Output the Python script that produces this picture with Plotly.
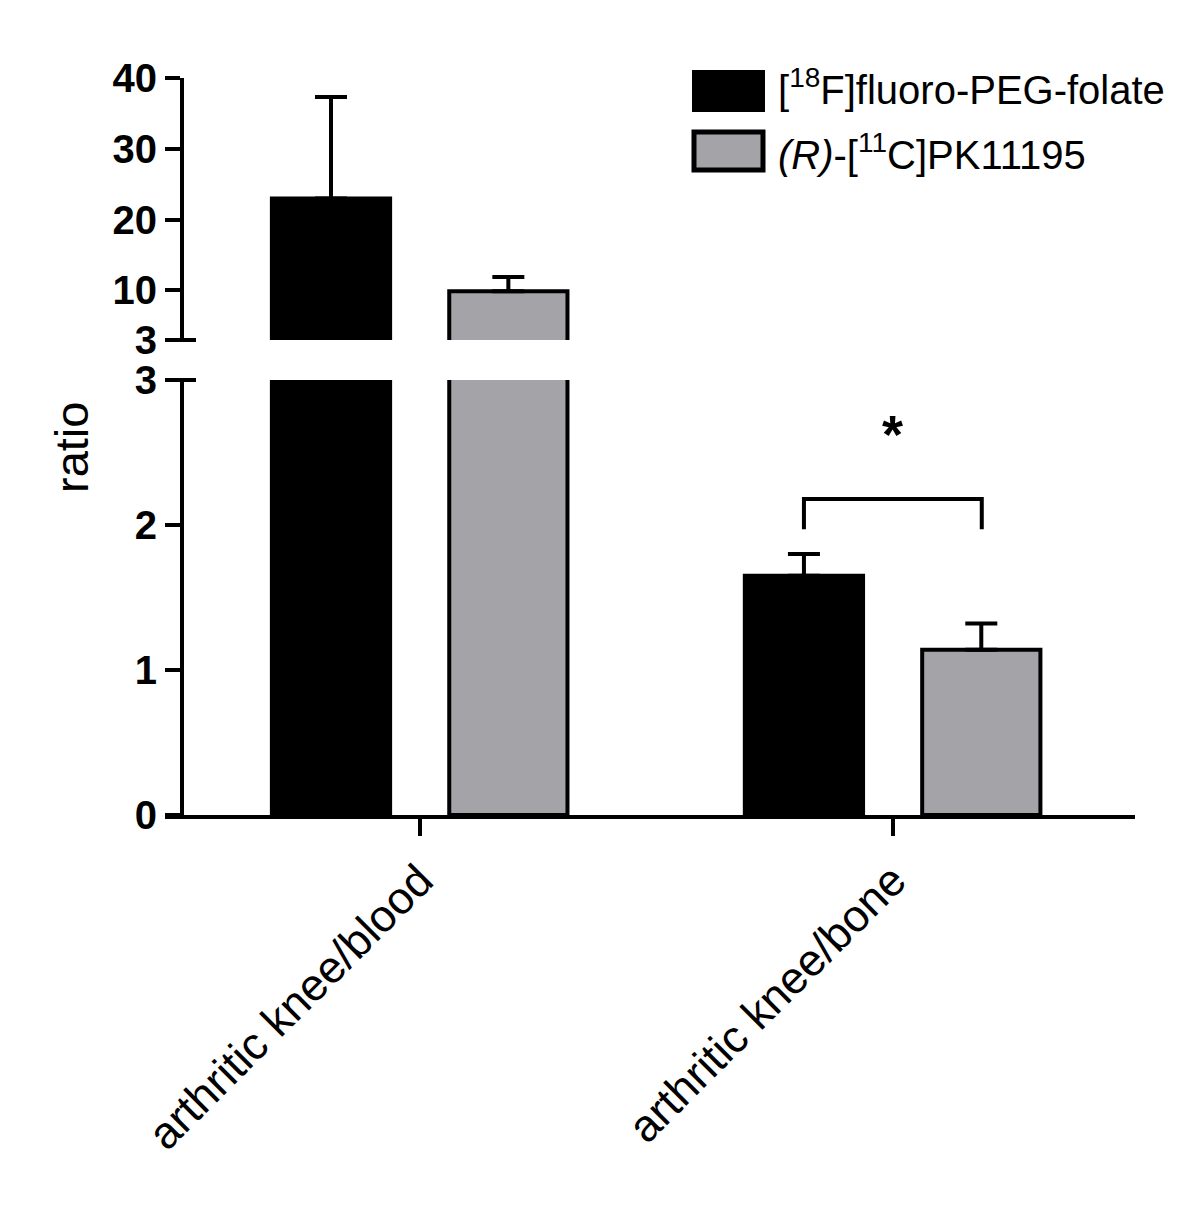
import plotly.graph_objects as go

# ---- data ----
categories = ["arthritic knee/blood", "arthritic knee/bone"]
folate_mean = [23.0, 1.65]
folate_sem = [14.3, 0.15]
pk_mean = [9.9, 1.14]
pk_sem = [2.0, 0.18]
series_names = ["[<sup>18</sup>F]fluoro-PEG-folate", "<i>(R)</i>-[<sup>11</sup>C]PK11195"]
lower_ticks = [0, 1, 2, 3]
upper_ticks = [3, 10, 20, 30, 40]
lower_range = [0, 3]
upper_range = [3, 40]

# ---- layout geometry (page pixels) ----
W, H = 1200, 1211
OFF = 8  # default page body margin
L, R, T, B = 165, 1135, 78, 815
pw, ph = R - L, B - T


def px(xp):
    return (xp - L) / pw


def py(yp):
    return (B - yp) / ph


FONT = "Liberation Sans, Arial, sans-serif"
GREY = "#a3a3a8"
LW = 4

fig = go.Figure()

for axis in ["y", "y2"]:
    for i, (vals, errs, col) in enumerate([(folate_mean, folate_sem, "black"),
                                            (pk_mean, pk_sem, GREY)]):
        fig.add_trace(go.Bar(
            x=categories, y=vals, yaxis=axis, xaxis="x",
            offset=-0.313 if i == 0 else 0.062, width=0.25,
            marker=dict(color=col, line=dict(color="black", width=LW)),
            error_y=dict(type="data", symmetric=False, array=errs,
                         arrayminus=[0] * len(errs), thickness=LW, width=16,
                         color="black"),
            showlegend=False,
        ))

ypos = px(182)
fig.update_layout(
    width=W, height=H,
    margin=dict(l=L - OFF, r=W - (R - OFF), t=T - OFF, b=H - (B - OFF)),
    plot_bgcolor="white", paper_bgcolor="white",
    showlegend=False,
    xaxis=dict(type="category", range=[-0.539, 1.512], showline=True,
               linecolor="black", linewidth=LW, ticks="outside", ticklen=17,
               tickwidth=LW, tickcolor="black", tickangle=-45,
               tickfont=dict(family=FONT, size=45, color="black"),
               showgrid=False, zeroline=False, anchor="y"),
    yaxis=dict(domain=[0, py(380)], range=lower_range, tickvals=lower_ticks,
               anchor="free", position=ypos, showline=True, linecolor="black",
               linewidth=LW, ticks="outside", ticklen=15, tickwidth=LW,
               tickcolor="black", showgrid=False, zeroline=False,
               tickfont=dict(family=FONT, size=40, color="black", weight="bold")),
    yaxis2=dict(domain=[py(340), 1], range=upper_range, tickvals=upper_ticks,
                anchor="free", position=ypos, showline=True, linecolor="black",
                linewidth=LW, ticks="outside", ticklen=15, tickwidth=LW,
                tickcolor="black", showgrid=False, zeroline=False,
                tickfont=dict(family=FONT, size=40, color="black", weight="bold")),
)

# break caps on the y axis
for yy in [340, 380]:
    fig.add_shape(type="line", xref="paper", yref="paper",
                  x0=px(180), x1=px(196), y0=py(yy), y1=py(yy),
                  line=dict(color="black", width=LW))

# significance bracket
fig.add_shape(type="path", xref="x", yref="y",
              path="M 0.812,1.97 L 0.812,2.18 L 1.188,2.18 L 1.188,1.97",
              line=dict(color="black", width=LW))
fig.add_annotation(x=1, y=2.63, xref="x", yref="y", text="<b>*</b>",
                   showarrow=False, xanchor="center", yanchor="middle",
                   font=dict(family=FONT, size=54, color="black"))

# y-axis title
fig.add_annotation(x=px(72), y=py(448), xref="paper", yref="paper", text="ratio",
                   textangle=-90, showarrow=False, xanchor="center", yanchor="middle",
                   font=dict(family=FONT, size=47, color="black"))

# legend
fig.add_shape(type="rect", xref="paper", yref="paper",
              x0=px(692), x1=px(765), y0=py(112), y1=py(70),
              fillcolor="black", line=dict(color="black", width=0))
fig.add_shape(type="rect", xref="paper", yref="paper",
              x0=px(694), x1=px(763), y0=py(170), y1=py(132),
              fillcolor=GREY, line=dict(color="black", width=5))
for name, yc in zip(series_names, [87, 152]):
    fig.add_annotation(x=px(776), y=py(yc), xref="paper", yref="paper",
                       text=name, xanchor="left", yanchor="middle",
                       showarrow=False,
                       font=dict(family=FONT, size=40, color="black"))

fig.write_html("out.html")
